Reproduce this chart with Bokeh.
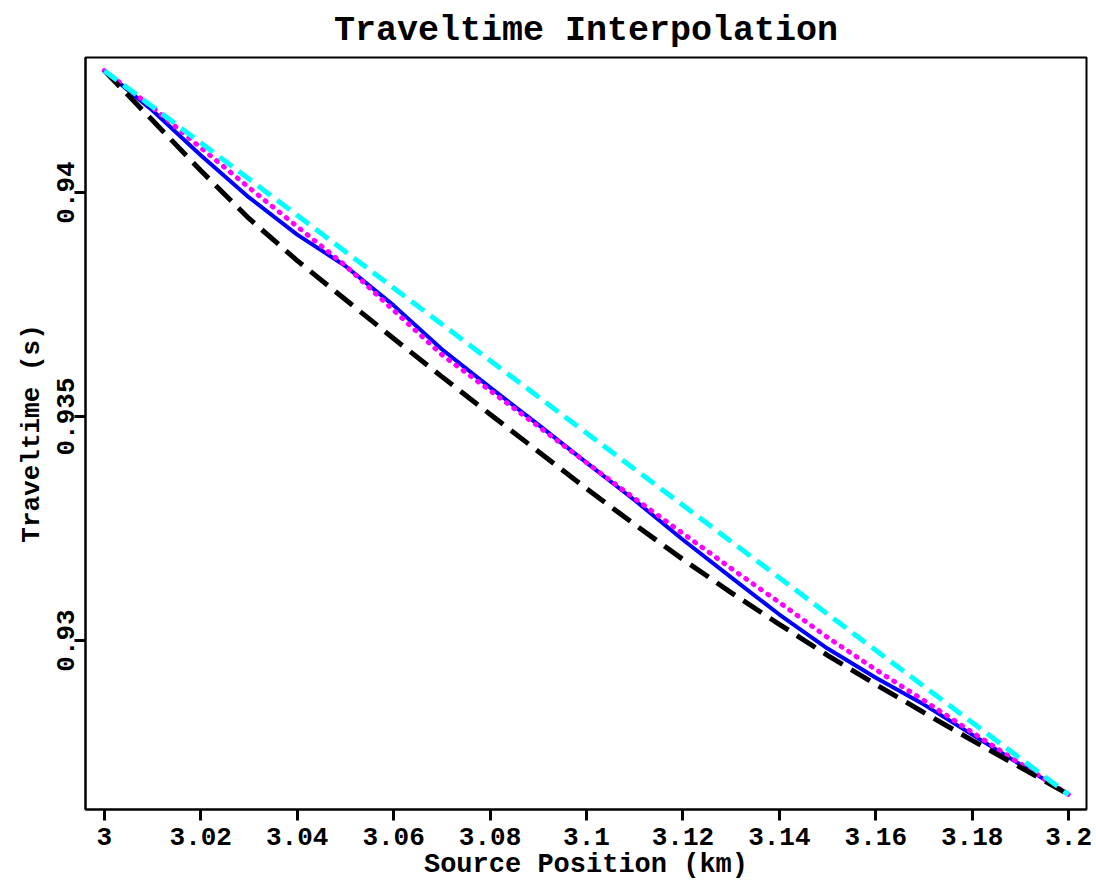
from bokeh.plotting import figure
from bokeh.models import Range1d, FixedTicker
from bokeh.embed import file_html
from bokeh.resources import INLINE

# Source positions (km)
x_pos = [3.00, 3.01, 3.02, 3.03, 3.04, 3.05, 3.06, 3.07, 3.08, 3.09, 3.10,
         3.11, 3.12, 3.13, 3.14, 3.15, 3.16, 3.17, 3.18, 3.19, 3.20]
x_coarse = [3.00, 3.02, 3.04, 3.06, 3.08, 3.10, 3.12, 3.14, 3.16, 3.18, 3.20]

# Traveltimes (s)
blue_tt = [0.94272, 0.94183, 0.94083, 0.93989, 0.93906, 0.93836, 0.93748,
           0.93650, 0.93565, 0.93482, 0.93397, 0.93313, 0.93225, 0.93141,
           0.93058, 0.92982, 0.92917, 0.92857, 0.92790, 0.92723, 0.92656]
magenta_tt = [0.94272, 0.94190, 0.94100, 0.94011, 0.93924, 0.93837, 0.93737,
              0.93638, 0.93558, 0.93478, 0.93397, 0.93317, 0.93239, 0.93161,
              0.93085, 0.93007, 0.92935, 0.92866, 0.92795, 0.92725, 0.92656]
black_tt = [0.94272, 0.94161, 0.94049, 0.93942, 0.93848, 0.93761, 0.93674,
            0.93589, 0.93505, 0.93422, 0.93339, 0.93259, 0.93181, 0.93107,
            0.93036, 0.92967, 0.92902, 0.92839, 0.92777, 0.92717, 0.92656]
cyan_tt = [0.94272, 0.94111, 0.93949, 0.93787, 0.93625, 0.93463, 0.93302,
           0.93140, 0.92978, 0.92817, 0.92656]

x_ticks = [3.0, 3.02, 3.04, 3.06, 3.08, 3.1, 3.12, 3.14, 3.16, 3.18, 3.2]
x_tick_labels = ["3", "3.02", "3.04", "3.06", "3.08", "3.1", "3.12", "3.14", "3.16", "3.18", "3.2"]
y_ticks = [0.93, 0.935, 0.94]
y_tick_labels = ["0.93", "0.935", "0.94"]

FONT = "Liberation Mono"

p = figure(width=1094, height=882, output_backend="svg", toolbar_location=None,
           x_range=Range1d(2.9961, 3.2037), y_range=Range1d(0.926228, 0.943013),
           title="Traveltime Interpolation",
           min_border_left=85, min_border_right=8, min_border_top=57, min_border_bottom=73)

p.title.align = "center"
p.title.text_font = FONT
p.title.text_font_style = "bold"
p.title.text_font_size = "35px"
p.title.text_color = "black"
p.title.standoff = 14

p.grid.visible = False
p.outline_line_color = "black"
p.outline_line_width = 2
p.outline_line_alpha = 1.0

p.xaxis.ticker = FixedTicker(ticks=x_ticks)
p.xaxis.major_label_overrides = dict(zip(x_ticks, x_tick_labels))
p.yaxis.ticker = FixedTicker(ticks=y_ticks)
p.yaxis.major_label_overrides = dict(zip(y_ticks, y_tick_labels))
p.yaxis.major_label_orientation = "vertical"

for ax in (p.xaxis, p.yaxis):
    ax.axis_line_color = "black"
    ax.axis_line_width = 2
    ax.major_tick_line_color = "black"
    ax.major_tick_line_width = 3
    ax.major_tick_out = 11
    ax.major_tick_in = 0
    ax.minor_tick_line_color = None
    ax.major_label_text_font = FONT
    ax.major_label_text_font_style = "bold"
    ax.major_label_text_font_size = "26px"
    ax.major_label_text_color = "black"
    ax.axis_label_text_font = FONT
    ax.axis_label_text_font_style = "bold"
    ax.axis_label_text_color = "black"

p.xaxis.axis_label = "Source Position (km)"
p.xaxis.axis_label_text_font_size = "27px"
p.xaxis.major_label_standoff = 7
p.xaxis.axis_label_standoff = 2
p.yaxis.axis_label = "Traveltime (s)"
p.yaxis.axis_label_text_font_size = "26px"
p.yaxis.major_label_standoff = 0
p.yaxis.axis_label_standoff = 8

p.line(x_pos, blue_tt, line_color="#0000ff", line_width=4)
p.line(x_pos, magenta_tt, line_color="#ff00ff", line_width=5,
       line_dash="1 8", line_cap="round")
p.line(x_pos, black_tt, line_color="black", line_width=5, line_dash="22 10")
p.line(x_coarse, cyan_tt, line_color="#00ffff", line_width=5, line_dash="16 8")

open("out.html", "w").write(file_html(p, INLINE))
